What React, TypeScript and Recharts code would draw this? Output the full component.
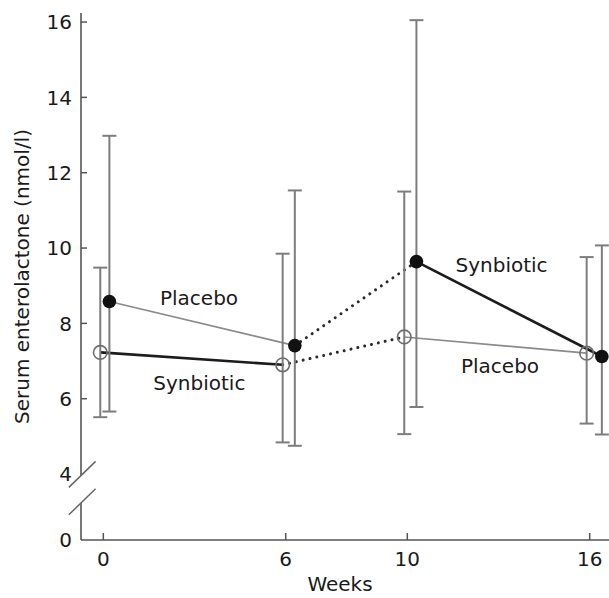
import React from 'react';
import {
  ComposedChart,
  Line,
  Scatter,
  XAxis,
  YAxis,
  ErrorBar,
  ReferenceLine,
  ReferenceDot,
  Label,
} from 'recharts';

// ---- data ----
const weeks = [0, 6, 10, 16];
// x positions (weeks) of the plotted symbols (slightly offset from the nominal week)
const filledX = [0.2, 6.3, 10.3, 16.4];
const openX = [-0.1, 5.9, 9.9, 15.9];
// filled circles
const filledMean = [8.58, 7.41, 9.64, 7.12];
const filledUpper = [12.98, 11.53, 16.05, 10.07];
const filledLower = [5.66, 4.75, 5.78, 5.05];
// open circles
const openMean = [7.23, 6.9, 7.64, 7.21];
const openUpper = [9.48, 9.85, 11.5, 9.76];
const openLower = [5.51, 4.84, 5.06, 5.34];

const yTickValues = [0, 4, 6, 8, 10, 12, 14, 16];
const yBreaks = [2.24, 3.9];

const annotations = [
  { text: 'Placebo', x: 3.15, y: 8.68 },
  { text: 'Synbiotic', x: 3.16, y: 6.42 },
  { text: 'Synbiotic', x: 13.1, y: 9.56 },
  { text: 'Placebo', x: 13.05, y: 6.88 },
];

// ---- axis break transform ----
const BREAK_SCALE = 0.4377;
const toAxis = (v: number) => (v >= 4 ? v : 4 - (4 - v) * BREAK_SCALE);
const fromAxis = (t: number) => {
  let best = yTickValues[0];
  let d = Infinity;
  for (const v of yTickValues) {
    const dd = Math.abs(toAxis(v) - t);
    if (dd < d) {
      d = dd;
      best = v;
    }
  }
  return best;
};

const X_MIN = -0.734;
const X_MAX = 16.635;
const Y_MIN = toAxis(0);
const Y_MAX = 16.24;

const build = (xs: number[], m: number[], lo: number[], hi: number[]) =>
  xs.map((x, i) => ({ x, y: toAxis(m[i]), err: [m[i] - lo[i], hi[i] - m[i]] }));

const filledData = build(filledX, filledMean, filledLower, filledUpper);
const openData = build(openX, openMean, openLower, openUpper);

const FONT = 'DejaVu Sans';
const FS = 20;
const TEXT = '#1a1a1a';

const styles: Record<string, any> = {
  thin: { stroke: '#8a8a8a', strokeWidth: 1.6 },
  thick: { stroke: '#1c1c1c', strokeWidth: 2.6 },
  dot: { stroke: '#2a2a2a', strokeWidth: 3, strokeDasharray: '0.01 7', strokeLinecap: 'round' },
};

const segments = [
  { data: filledData.slice(0, 2), kind: 'thin' },
  { data: filledData.slice(1, 3), kind: 'dot' },
  { data: filledData.slice(2, 4), kind: 'thick' },
  { data: openData.slice(0, 2), kind: 'thick' },
  { data: openData.slice(1, 3), kind: 'dot' },
  { data: openData.slice(2, 4), kind: 'thin' },
];

const YTick = (props: any) => {
  const { x, y, payload } = props;
  const v = fromAxis(payload.value);
  return (
    <g>
      <text x={x} y={y} dy="0.36em" textAnchor="end" fontFamily={FONT} fontSize={FS} fill={TEXT}>
        {v}
      </text>
      {v >= 6 && <line x1={x + 9} x2={x + 15} y1={y} y2={y} stroke="#555" strokeWidth={1.5} />}
    </g>
  );
};

const XTick = (props: any) => {
  const { x, y, payload } = props;
  return (
    <g>
      <text x={x} y={y} dy={16} textAnchor="middle" fontFamily={FONT} fontSize={FS} fill={TEXT}>
        {payload.value}
      </text>
      <line x1={x} x2={x} y1={y - 10} y2={y - 17} stroke="#555" strokeWidth={1.5} />
    </g>
  );
};

const FilledShape = (p: any) => <circle cx={p.cx} cy={p.cy} r={6.8} fill="#111" />;
const OpenShape = (p: any) => (
  <circle cx={p.cx} cy={p.cy} r={6.8} fill="none" stroke="#6e6e6e" strokeWidth={1.6} />
);

export default function App() {
  const axisStroke = '#555';
  return (
    <div style={{ position: 'absolute', left: 0, top: 0, width: 609, height: 598, background: '#fff' }}>
      <ComposedChart width={609} height={598} margin={{ top: 13, right: 0, bottom: 0, left: 0 }}>
        <XAxis
          type="number"
          dataKey="x"
          domain={[X_MIN, X_MAX]}
          ticks={weeks}
          interval={0}
          allowDataOverflow
          height={58}
          tickLine={false}
          tickSize={0}
          tickMargin={10}
          tick={<XTick />}
          axisLine={{ stroke: axisStroke, strokeWidth: 1.6 }}
        >
          <Label
            content={(p: any) => {
              const vb = p.viewBox;
              return (
                <text
                  x={vb.x + vb.width / 2 - 5}
                  y={vb.y + 51}
                  textAnchor="middle"
                  fontFamily={FONT}
                  fontSize={FS}
                  fill={TEXT}
                >
                  Weeks
                </text>
              );
            }}
          />
        </XAxis>
        <YAxis
          type="number"
          dataKey="y"
          domain={[Y_MIN, Y_MAX]}
          ticks={yTickValues.map(toAxis)}
          interval={0}
          allowDataOverflow
          width={81}
          tickLine={false}
          tickSize={0}
          tickMargin={9}
          axisLine={false}
          tick={<YTick />}
        >
          <Label
            content={(p: any) => {
              const vb = p.viewBox;
              const cx = vb.x + 29;
              const cy = vb.y + vb.height / 2;
              return (
                <text
                  x={cx}
                  y={cy}
                  transform={`rotate(-90, ${cx}, ${cy})`}
                  textAnchor="middle"
                  fontFamily={FONT}
                  fontSize={FS}
                  fill={TEXT}
                >
                  Serum enterolactone (nmol/l)
                </text>
              );
            }}
          />
        </YAxis>

        {/* broken y axis line */}
        <ReferenceLine
          segment={[
            { x: X_MIN, y: toAxis(yBreaks[1]) },
            { x: X_MIN, y: Y_MAX },
          ]}
          stroke={axisStroke}
          strokeWidth={1.6}
          ifOverflow="visible"
        />
        <ReferenceLine
          segment={[
            { x: X_MIN, y: Y_MIN },
            { x: X_MIN, y: toAxis(yBreaks[0]) },
          ]}
          stroke={axisStroke}
          strokeWidth={1.6}
          ifOverflow="visible"
        />
        {yBreaks.map((b, i) => (
          <ReferenceLine
            key={'brk' + i}
            segment={[
              { x: X_MIN - 0.4, y: toAxis(b) - 0.31 },
              { x: X_MIN + 0.48, y: toAxis(b) + 0.38 },
            ]}
            stroke="#666"
            strokeWidth={1.5}
            ifOverflow="visible"
          />
        ))}

        {segments.map((s, i) => (
          <Line
            key={'seg' + i}
            data={s.data}
            dataKey="y"
            type="linear"
            dot={false}
            activeDot={false}
            isAnimationActive={false}
            {...styles[s.kind]}
          />
        ))}

        <Scatter data={openData} dataKey="y" shape={<OpenShape />} isAnimationActive={false}>
          <ErrorBar dataKey="err" direction="y" width={7} stroke="#7d7d7d" strokeWidth={2} />
        </Scatter>
        <Scatter data={filledData} dataKey="y" shape={<FilledShape />} isAnimationActive={false}>
          <ErrorBar dataKey="err" direction="y" width={7} stroke="#7d7d7d" strokeWidth={2} />
        </Scatter>

        {annotations.map((a, i) => (
          <ReferenceDot
            key={'ann' + i}
            x={a.x}
            y={toAxis(a.y)}
            r={0}
            fill="none"
            stroke="none"
            ifOverflow="visible"
            label={{
              value: a.text,
              position: 'center',
              fontFamily: FONT,
              fontSize: FS,
              fill: TEXT,
            }}
          />
        ))}
      </ComposedChart>
    </div>
  );
}
